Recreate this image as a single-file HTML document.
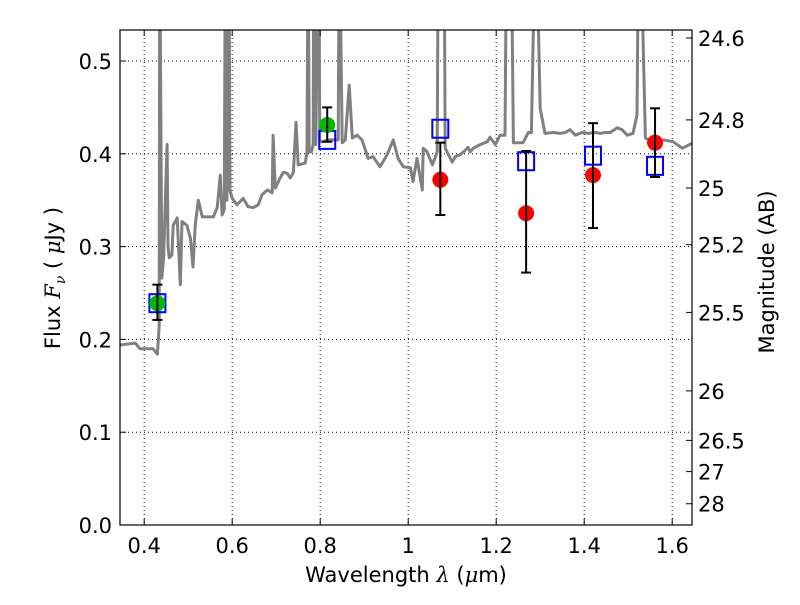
<!DOCTYPE html>
<html><head><meta charset="utf-8"><style>
body{margin:0;background:#fff;}
svg text{font-family:"DejaVu Sans","Liberation Sans",sans-serif;fill:#000;}
</style></head><body>
<svg id="chart" width="800" height="600" viewBox="0 0 800 600" xmlns="http://www.w3.org/2000/svg" style="position:absolute;left:0;top:0">
<rect width="800" height="600" fill="#fff"/>
<g id="grid"></g>
<g id="spec"></g>
<g id="pts"></g>
<g id="axes"></g>
</svg>
<script>
const xTicks=[0.4,0.6,0.8,1.0,1.2,1.4,1.6];
const xTickLabels=["0.4","0.6","0.8","1","1.2","1.4","1.6"];
const yTicks=[0,0.1,0.2,0.3,0.4,0.5];
const yTickLabels=["0.0","0.1","0.2","0.3","0.4","0.5"];
const magTicks=[24.6,24.8,25,25.2,25.5,26,26.5,27,28];
const magTickLabels=["24.6","24.8","25","25.2","25.5","26","26.5","27","28"];
const specWave=[0.345,0.38,0.39,0.42,0.43,0.434,0.435,0.436,0.44,0.444,0.45,0.452,0.454,0.457,0.463,0.466,0.475,0.482,0.486,0.497,0.505,0.511,0.516,0.523,0.532,0.543,0.557,0.566,0.573,0.577,0.582,0.584,0.586,0.588,0.591,0.593,0.595,0.6,0.611,0.625,0.636,0.648,0.659,0.668,0.68,0.691,0.693,0.698,0.709,0.716,0.725,0.732,0.739,0.745,0.75,0.766,0.77,0.772,0.773,0.775,0.78,0.784,0.785,0.787,0.79,0.795,0.797,0.799,0.805,0.818,0.83,0.841,0.843,0.845,0.85,0.857,0.866,0.873,0.884,0.895,0.909,0.92,0.936,0.952,0.966,0.977,0.989,1.005,1.011,1.02,1.032,1.034,1.043,1.055,1.066,1.068,1.07,1.08,1.082,1.084,1.1,1.107,1.118,1.13,1.136,1.141,1.148,1.164,1.18,1.186,1.198,1.209,1.22,1.223,1.228,1.23,1.235,1.239,1.261,1.273,1.28,1.287,1.29,1.293,1.3,1.311,1.33,1.345,1.357,1.368,1.38,1.395,1.409,1.425,1.436,1.448,1.459,1.475,1.486,1.498,1.511,1.52,1.523,1.53,1.539,1.557,1.58,1.602,1.623,1.648];
const specFlux=[0.194,0.196,0.19,0.19,0.184,0.215,0.6,0.6,0.266,0.288,0.38,0.41,0.3,0.288,0.291,0.323,0.331,0.259,0.327,0.323,0.309,0.278,0.323,0.35,0.332,0.332,0.332,0.342,0.377,0.334,0.34,0.6,0.6,0.35,0.6,0.6,0.36,0.352,0.345,0.352,0.343,0.342,0.345,0.356,0.361,0.358,0.42,0.363,0.374,0.38,0.379,0.374,0.38,0.434,0.388,0.39,0.402,0.6,0.6,0.402,0.402,0.41,0.6,0.6,0.41,0.6,0.6,0.413,0.413,0.415,0.415,0.415,0.6,0.6,0.412,0.415,0.474,0.417,0.42,0.415,0.395,0.397,0.386,0.399,0.415,0.395,0.386,0.385,0.37,0.395,0.361,0.406,0.402,0.388,0.402,0.6,0.6,0.6,0.6,0.406,0.391,0.397,0.399,0.404,0.407,0.402,0.406,0.41,0.413,0.418,0.41,0.42,0.42,0.6,0.6,0.6,0.6,0.412,0.412,0.423,0.423,0.6,0.6,0.6,0.449,0.422,0.423,0.422,0.423,0.426,0.42,0.423,0.422,0.423,0.422,0.423,0.423,0.428,0.426,0.42,0.422,0.442,0.6,0.6,0.417,0.412,0.415,0.413,0.406,0.412];
const photWave=[0.43,0.816,1.073,1.268,1.42,1.561];
const photFlux=[0.239,0.431,0.372,0.336,0.377,0.412];
const errLow=[0.221,0.413,0.334,0.272,0.32,0.375];
const errHigh=[0.259,0.45,0.412,0.403,0.433,0.449];
const modelFlux=[0.239,0.415,0.427,0.392,0.398,0.387];
const photColor=["#00bb00","#00bb00","red","red","red","red"];

const L=120,R=692,T=30,B=525,X0=0.345,X1=1.645,Y0=0,Y1=0.5334;
const sx=v=>L+(v-X0)/(X1-X0)*(R-L);
const sy=v=>B-(v-Y0)/(Y1-Y0)*(B-T);
const magToFlux=m=>Math.pow(10,(23.9-m)/2.5);
const NS="http://www.w3.org/2000/svg";
function mk(tag,attrs,parent){const e=document.createElementNS(NS,tag);for(const k in attrs)e.setAttribute(k,attrs[k]);parent.appendChild(e);return e;}
const grid=document.getElementById('grid'),spec=document.getElementById('spec'),pts=document.getElementById('pts'),axes=document.getElementById('axes');

const defs=mk('defs',{},document.getElementById('chart'));
const cp=mk('clipPath',{id:'clip'},defs);mk('rect',{x:L,y:T,width:R-L,height:B-T},cp);
spec.setAttribute('clip-path','url(#clip)');

xTicks.forEach((v,i)=>{
 const g=mk('line',{x1:sx(v),x2:sx(v),y1:T,y2:B,stroke:'#000','stroke-width':1,'stroke-dasharray':'1,3'},grid);
 
 
 mk('line',{x1:sx(v),x2:sx(v),y1:B,y2:B-6,stroke:'#000'},axes);
 mk('line',{x1:sx(v),x2:sx(v),y1:T,y2:T+6,stroke:'#000'},axes);
 const t=mk('text',{x:sx(v),y:B+28,'text-anchor':'middle','font-size':21},axes);t.textContent=xTickLabels[i];
 
 
});
yTicks.forEach((v,i)=>{
 const g=mk('line',{x1:L,x2:R,y1:sy(v),y2:sy(v),stroke:'#000','stroke-width':1,'stroke-dasharray':'1,3'},grid);
 
 
 mk('line',{x1:L,x2:L+6,y1:sy(v),y2:sy(v),stroke:'#000'},axes);
 const t=mk('text',{x:L-8,y:sy(v)+8,'text-anchor':'end','font-size':21},axes);t.textContent=yTickLabels[i];
 
 
});
magTicks.forEach((m,i)=>{
 const y=sy(magToFlux(m));
 mk('line',{x1:R,x2:R-6,y1:y,y2:y,stroke:'#000'},axes);
 const t=mk('text',{x:R+6,y:y+8,'font-size':21},axes);t.textContent=magTickLabels[i];
 
 
});

let d='';specWave.forEach((w,i)=>{d+=(i?'L':'M')+sx(w).toFixed(1)+','+sy(specFlux[i]).toFixed(1);});
const p=mk('path',{d:d,fill:'none',stroke:'#808080','stroke-width':3,'stroke-linejoin':'round'},spec);



photWave.forEach((w,i)=>{
 const x=sx(w);
 const sq=mk('rect',{x:x-8,y:sy(modelFlux[i])-9,width:16,height:18,fill:'none',stroke:'#0000ff','stroke-width':2},pts);
 
 
 const c=mk('circle',{cx:x,cy:sy(photFlux[i]),r:8,fill:photColor[i]},pts);
 
 
 const e=mk('g',{stroke:'#000','stroke-width':2},pts);
 
 
 mk('line',{x1:x,x2:x,y1:sy(errLow[i]),y2:sy(errHigh[i])},e);
 mk('line',{x1:x-5,x2:x+5,y1:sy(errLow[i]),y2:sy(errLow[i])},e);
 mk('line',{x1:x-5,x2:x+5,y1:sy(errHigh[i]),y2:sy(errHigh[i])},e);
});
const fr=mk('rect',{x:L,y:T,width:R-L,height:B-T,fill:'none',stroke:'#000','stroke-width':1.2},axes);


</script>
<div style="position:absolute;left:0;top:0;width:800px;height:600px;pointer-events:none">
<svg width="800" height="600" xmlns="http://www.w3.org/2000/svg">
<text x="406" y="582" text-anchor="middle" font-size="21" font-family="DejaVu Sans, Liberation Sans, sans-serif">Wavelength  <tspan font-style="italic" font-family="DejaVu Serif, serif">λ</tspan> (<tspan font-style="italic" font-family="DejaVu Serif, serif">μ</tspan>m)</text>
<text transform="translate(60,278) rotate(-90)" text-anchor="middle" font-size="21" font-family="DejaVu Sans, Liberation Sans, sans-serif">Flux  <tspan font-style="italic" font-family="DejaVu Serif, serif">F<tspan font-size="14" dy="5">ν</tspan></tspan><tspan dy="-5">  (  </tspan><tspan font-style="italic" font-family="DejaVu Serif, serif">μ</tspan>Jy )</text>
<text transform="translate(774,272) rotate(-90)" text-anchor="middle" font-size="21" font-family="DejaVu Sans, Liberation Sans, sans-serif">Magnitude (AB)</text>
</svg></div>
</body></html>
